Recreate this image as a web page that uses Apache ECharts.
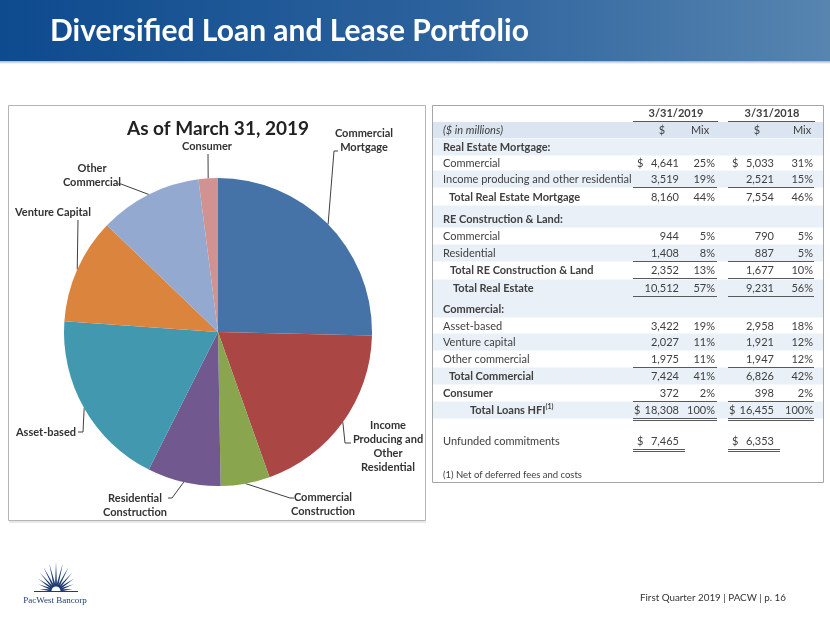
<!DOCTYPE html>
<html><head><meta charset="utf-8">
<script src="https://cdn.jsdelivr.net/npm/echarts@6/dist/echarts.min.js"></script>
<style>html,body{margin:0;padding:0;background:#fff}#c{width:830px;height:623px}</style>
</head><body><div id="c"></div>
<script>
// ---------------- data ----------------
const sliceNames = ['Commercial\nMortgage', 'Income\nProducing and\nOther\nResidential', 'Commercial\nConstruction', 'Residential\nConstruction', 'Asset-based', 'Venture Capital', 'Other\nCommercial', 'Consumer'];
const sliceValues = [4641, 3519, 944, 1408, 3422, 2027, 1975, 372];

const rowLabels = ['Real Estate Mortgage:', 'Commercial', 'Income producing and other residential', 'Total Real Estate Mortgage',
  'RE Construction & Land:', 'Commercial', 'Residential', 'Total RE Construction & Land', 'Total Real Estate',
  'Commercial:', 'Asset-based', 'Venture capital', 'Other commercial', 'Total Commercial', 'Consumer', 'Total Loans HFI', 'Unfunded commitments'];
const amt2019 = [null, 4641, 3519, 8160, null, 944, 1408, 2352, 10512, null, 3422, 2027, 1975, 7424, 372, 18308, 7465];
const mix2019 = [null, 25, 19, 44, null, 5, 8, 13, 57, null, 19, 11, 11, 41, 2, 100, null];
const amt2018 = [null, 5033, 2521, 7554, null, 790, 887, 1677, 9231, null, 2958, 1921, 1947, 6826, 398, 16455, 6353];
const mix2018 = [null, 31, 15, 46, null, 5, 5, 10, 56, null, 18, 12, 12, 42, 2, 100, null];
const periodLabels = ['3/31/2019', '3/31/2018'];
const unitLabel = '($ in millions)';
const footnote = '(1) Net of deferred fees and costs';
const chartTitle = 'As of March 31, 2019';
const pageTitle = 'Diversified Loan and Lease Portfolio';
const footerText = 'First Quarter 2019 | PACW | p. 16';

// ---------------- styles / layout ----------------
const FONT = 'Lato';
const TXT = '#404040';
const sliceColors = ['#4572A7', '#AA4643', '#89A54E', '#71588F', '#4198AF', '#DB843D', '#93A9CF', '#D19392'];
const labelPos = [
  {x: 364, y: 140, tail: [[334, 151], [338, 151]]},
  {x: 388, y: 446, tail: [[345, 443], [351, 443]]},
  {x: 323, y: 504, tail: [[290, 498], [294, 498]]},
  {x: 135, y: 505, tail: [[172, 498], [168, 498]]},
  {x: 46, y: 432, tail: [[83, 432], [78, 432]]},
  {x: 53, y: 212, tail: [[78, 220], [78, 220]]},
  {x: 92, y: 175, tail: [[121, 184], [118, 184]]},
  {x: 207, y: 146, tail: [[208, 154], [208, 154]]}
];
const rowLayout = [
  {y: 147, x: 443, bold: true, bg: true},
  {y: 163, x: 443, dollar: true},
  {y: 179, x: 443, under: 1, bg: true},
  {y: 197, x: 449, bold: true},
  {y: 219, x: 443, bold: true, bg: true, tall: true},
  {y: 236, x: 443},
  {y: 253, x: 443, under: 1, bg: true},
  {y: 270, x: 450, bold: true, under: 1},
  {y: 288, x: 453, bold: true, under: 1, bg: true},
  {y: 309, x: 443, bold: true, bg: true, tall: true},
  {y: 326, x: 443},
  {y: 342, x: 443, bg: true},
  {y: 359, x: 443, under: 1},
  {y: 376, x: 449, bold: true, bg: true},
  {y: 393, x: 443, bold: true, under: 1},
  {y: 410, x: 470, bold: true, dollar: true, under: 2, bg: true, sup: true, wide: true},
  {y: 441, x: 443, dollar: true, under: 2, short: true}
];
const COL = {d19: 637, v19: 679, m19: 715, d18: 732, v18: 774, m18: 813};

const fmt = v => v.toLocaleString('en-US');
const g = [];
function txt(x, y, text, o) {
  o = o || {};
  g.push({type: 'text', x: x, y: y, z: 10, silent: true, style: Object.assign({
    text: text, fill: TXT, fontFamily: FONT, fontSize: 11, align: 'left', verticalAlign: 'middle'
  }, o)});
}
function line(x1, y1, x2, y2, color, w) {
  g.push({type: 'line', z: 5, silent: true, shape: {x1: x1, y1: y1, x2: x2, y2: y2}, style: {stroke: color || '#595959', lineWidth: w || 1}});
}
function rect(x, y, w, h, st, z) {
  g.push({type: 'rect', z: z || 1, silent: true, shape: {x: x, y: y, width: w, height: h}, style: st});
}

// title bar
rect(0, 0, 830, 61, {fill: {type: 'linear', x: 0, y: 0, x2: 1, y2: 0, colorStops: [{offset: 0, color: '#0d4a8e'}, {offset: 0.55, color: '#2d639d'}, {offset: 1, color: '#5785b0'}]}});
rect(0, 61, 830, 3, {fill: {type: 'linear', x: 0, y: 0, x2: 0, y2: 1, colorStops: [{offset: 0, color: '#a9b3bf'}, {offset: 1, color: '#ffffff'}]}});
txt(50, 31, pageTitle, {fill: '#ffffff', fontSize: 30, fontWeight: 'bold'});

// chart box
rect(8.5, 105.5, 417, 415, {fill: 'none', stroke: '#b4b4b4', lineWidth: 1});
line(9, 522, 426, 522, '#d0d0d0', 1);
txt(218, 129, chartTitle, {fill: '#222', fontSize: 19, fontWeight: 'bold', align: 'center'});

// table box
rect(432.5, 105.5, 391, 377, {fill: 'none', stroke: '#a6a6a6', lineWidth: 1}, 6);
// header
txt(676, 113, periodLabels[0], {fontWeight: 'bold', align: 'center'});
txt(772, 113, periodLabels[1], {fontWeight: 'bold', align: 'center'});
line(633, 121.5, 718, 121.5);
line(728, 121.5, 815, 121.5);
rect(433, 122, 390, 16, {fill: '#dbe5f1'});
txt(443, 130, unitLabel, {fontStyle: 'italic'});
txt(662, 130, '$', {align: 'center'});
txt(700, 130, 'Mix', {align: 'center'});
txt(757, 130, '$', {align: 'center'});
txt(802, 130, 'Mix', {align: 'center'});

rowLabels.forEach(function (lab, i) {
  const r = rowLayout[i];
  if (r.bg) rect(433, r.y - 8.5 - (r.tall ? 5 : 0), 390, 17 + (r.tall ? 5 : 0), {fill: '#eaf0f7'});
  if (r.sup) {
    g.push({type: 'text', x: r.x, y: r.y, z: 10, silent: true, style: {
      text: '{a|' + lab + '}{s|(1)}', fill: TXT, fontFamily: FONT, verticalAlign: 'middle', align: 'left',
      rich: {a: {fontSize: 11, fontWeight: 'bold', fontFamily: FONT, fill: TXT, lineHeight: 14},
             s: {fontSize: 7, fontWeight: 'bold', fontFamily: FONT, fill: TXT, verticalAlign: 'top', lineHeight: 14}}
    }});
  } else {
    txt(r.x, r.y, lab, {fontWeight: r.bold ? 'bold' : 'normal'});
  }
  if (amt2019[i] != null) {
    if (r.dollar) {
      const off = r.wide ? -3 : 0;
      txt(COL.d19 + off, r.y, '$'); txt(COL.d18 + off, r.y, '$');
    }
    txt(COL.v19, r.y, fmt(amt2019[i]), {align: 'right'});
    txt(COL.v18, r.y, fmt(amt2018[i]), {align: 'right'});
  }
  if (mix2019[i] != null) {
    txt(COL.m19, r.y, mix2019[i] + '%', {align: 'right'});
    txt(COL.m18, r.y, mix2018[i] + '%', {align: 'right'});
  }
  if (r.under) {
    const e1 = r.short ? 685 : 717, e2 = r.short ? 780 : 814;
    const uy = r.y + 8.5;
    line(633, uy, e1, uy);
    line(728, uy, e2, uy);
    if (r.under === 2) { line(633, uy + 2, e1, uy + 2); line(728, uy + 2, e2, uy + 2); }
  }
});
txt(443, 475, footnote, {fontSize: 9.5});

// footer
txt(640, 598, footerText, {fontSize: 9.8, fill: '#333'});
// logo
(function () {
  const cx = 56, cy = 591, n = 13;
  for (let i = 0; i < n; i++) {
    const a = Math.PI * (i + 0.5) / n;
    const L = 16 + 13 * Math.pow(Math.sin(a), 1.5);
    const r0 = 6, hw = 0.16;
    const pts = [
      [cx + r0 * Math.cos(a - hw), cy - r0 * Math.sin(a - hw)],
      [cx + L * Math.cos(a), cy - L * Math.sin(a)],
      [cx + r0 * Math.cos(a + hw), cy - r0 * Math.sin(a + hw)]
    ];
    g.push({type: 'polygon', z: 3, silent: true, shape: {points: pts}, style: {fill: '#1f3d73'}});
  }
  g.push({type: 'sector', z: 3, silent: true, shape: {cx: cx, cy: cy, r: 7, r0: 4.5, startAngle: Math.PI, endAngle: 2 * Math.PI}, style: {fill: '#1f3d73'}});
  line(34, 591.5, 78, 591.5, '#1f3d73', 1);
  txt(55, 601, 'PacWest Bancorp', {fontFamily: 'Liberation Serif', fontSize: 9, fill: '#1f3d73', align: 'center'});
})();

const chart = echarts.init(document.getElementById('c'), null, {renderer: 'canvas'});
chart.setOption({
  backgroundColor: '#ffffff',
  animation: false,
  graphic: {elements: g},
  series: [{
    type: 'pie',
    center: [218, 332],
    radius: [0, 154],
    startAngle: 90,
    clockwise: true,
    avoidLabelOverlap: false,
    silent: true,
    itemStyle: {borderWidth: 0},
    data: sliceNames.map(function (n, i) { return {name: n, value: sliceValues[i], itemStyle: {color: sliceColors[i]}}; }),
    label: {show: true, formatter: '{b}', fontFamily: FONT, fontWeight: 'bold', fontSize: 11, lineHeight: 14, color: '#333', align: 'center'},
    labelLine: {show: true, length: 10, length2: 5, lineStyle: {color: '#404040', width: 1}},
    labelLayout: function (p) {
      const lp = labelPos[p.dataIndex];
      const p0 = p.labelLinePoints ? p.labelLinePoints[0].slice() : lp.tail[0];
      return {x: lp.x, y: lp.y, align: 'center', verticalAlign: 'middle', labelLinePoints: [p0, lp.tail[0], lp.tail[1]]};
    },
    emphasis: {disabled: true}
  }]
});
</script></body></html>
